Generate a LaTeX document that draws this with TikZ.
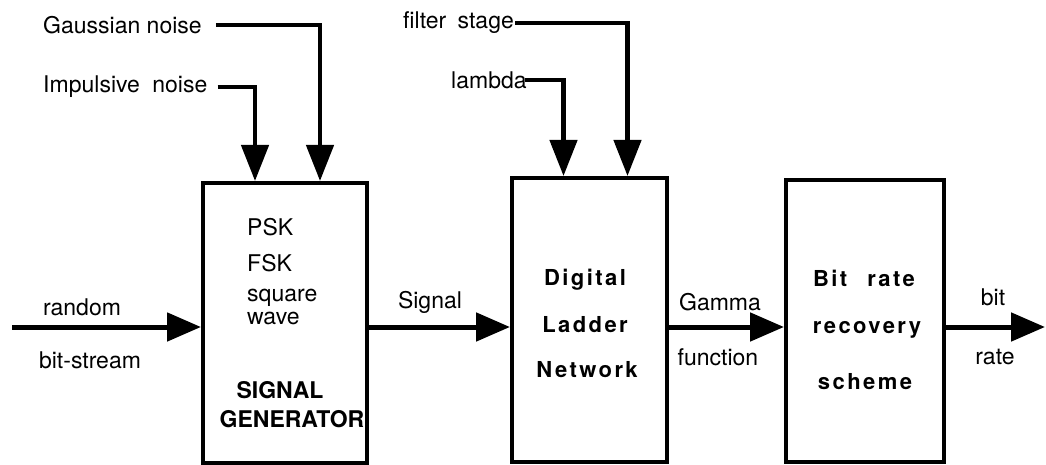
\documentclass[tikz,border=0pt]{standalone}
\usepackage{fontspec}
\setmainfont{TeX Gyre Heros}
\usetikzlibrary{arrows.meta}
\begin{document}
\begin{tikzpicture}[x=1pt,y=-1pt,
  blk/.style={draw,line width=4pt,inner sep=0pt},
  lbl/.style={inner sep=0pt,font=\fontsize{23}{25}\selectfont},
  blbl/.style={inner sep=0pt,font=\fontsize{23}{25}\selectfont\bfseries},
  sbl/.style={inner sep=0pt,font=\fontsize{22}{24}\selectfont\bfseries\addfontfeature{LetterSpace=11}},
  conn/.style={line width=5pt,-{Triangle[length=34pt,width=28pt]}},
  tconn/.style={line width=4.5pt,-{Triangle[length=36pt,width=27pt]}}]
\useasboundingbox (0,0) rectangle (1046,465);
% blocks
\node[blk,minimum width=164pt,minimum height=280pt] (sg) at (285,323) {};
\node[blk,minimum width=155pt,minimum height=284pt] (dl) at (589.5,320) {};
\node[blk,minimum width=158pt,minimum height=282pt] (br) at (865,321) {};
% signal generator contents
\node[lbl,anchor=west] (psk) at (247,227) {PSK};
\node[lbl,anchor=west] (fsk) at (247,263) {FSK};
\node[lbl,anchor=west] (sq) at (247,298) {square};
\node[lbl,anchor=west] (wv) at (247,318) {wave};
\node[blbl] (sig) at (280,390) {SIGNAL};
\node[blbl] (gen) at (292,419) {GENERATOR};
% ladder contents
\node[sbl] (dg) at (585,280) {Digital};
\node[sbl] (ld) at (585,325) {Ladder};
\node[sbl] (nw) at (587,370) {Network};
% bit rate contents
\node[sbl] (bt) at (864,278) {Bit\hspace{20pt}rate};
\node[sbl] (rc) at (867,330) {recovery};
\node[sbl] (sc) at (865,382) {scheme};
% top labels
\node[lbl,anchor=west] (gn) at (43,25) {Gaussian noise};
\node[lbl,anchor=west] (im) at (43,87) {Impulsive\hspace{6pt} noise};
\node[lbl,anchor=west] (fs) at (403,23) {filter\hspace{5pt} stage};
\node[lbl,anchor=west] (lm) at (451,80) {lambda};
% side labels
\node[lbl] (rd) at (82,307) {random};
\node[lbl] (bs) at (90,360) {bit-stream};
\node[lbl] (sl) at (430,302) {Signal};
\node[lbl] (gm) at (720,302) {Gamma};
\node[lbl] (fn) at (718,357) {function};
\node[lbl] (bo) at (993,297) {bit};
\node[lbl] (ro) at (995,357) {rate};
% coordinates
\coordinate (in) at (12,327);
\coordinate (out) at (1045,327);
% connectors
\draw[conn] (in) -- (in -| sg.west);
\draw[conn] (sg.east |- in) -- (in -| dl.west);
\draw[conn] (dl.east |- in) -- (in -| br.west);
\draw[conn] (br.east |- in) -- (out);
\draw[tconn] ([xshift=14pt]gn.east) -| ([xshift=35pt]sg.north);
\draw[tconn] ([xshift=10pt]im.east) -| ([xshift=-30pt]sg.north);
\draw[tconn] ([xshift=1pt]fs.east) -| ([xshift=38pt]dl.north);
\draw[tconn] ([xshift=-2pt]lm.east) -| ([xshift=-26pt]dl.north);
\end{tikzpicture}
\end{document}
